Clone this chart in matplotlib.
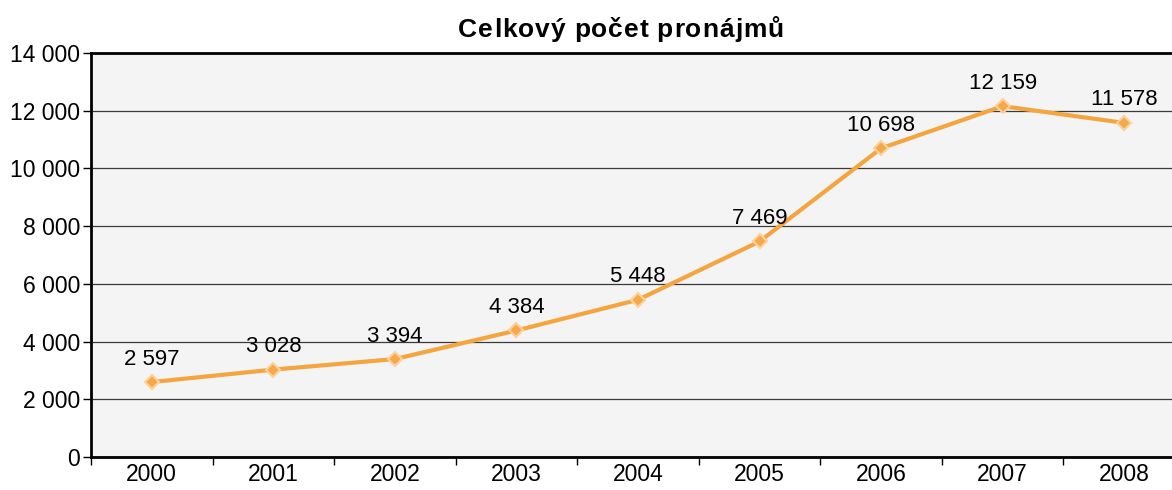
import matplotlib.pyplot as plt

plt.rcParams['font.family'] = ['Liberation Sans', 'DejaVu Sans']

years = ['2000', '2001', '2002', '2003', '2004', '2005', '2006', '2007', '2008']
rentals = [2597, 3028, 3394, 4384, 5448, 7469, 10698, 12159, 11578]
yticks = [0, 2000, 4000, 6000, 8000, 10000, 12000, 14000]
title = 'Celkový počet pronájmů'


def fmt(v):
    return f'{v:,}'.replace(',', ' ')


fig = plt.figure(figsize=(11.72, 4.90), dpi=100)
ax = fig.add_axes([91 / 1172, 33 / 490, 1094 / 1172, 404 / 490])
ax.set_facecolor('#f4f4f4')

x = list(range(len(years)))
ax.plot(x, rentals, color='#f5a540', lw=3, zorder=3,
        marker='D', ms=7.5, mfc='#f7a84a', mec='#fcd29a', mew=1.5)
for xi, v in zip(x, rentals):
    ax.annotate(fmt(v), (xi, v), xytext=(0, 16.5), textcoords='offset points',
                ha='center', va='center', fontsize=16)

ax.set_xlim(-0.5, 8.5)
ax.set_ylim(0, 14000)
ax.set_yticks(yticks)
ax.set_yticklabels([fmt(v) for v in yticks], fontsize=16.5)
ax.set_xticks(x)
ax.set_xticklabels(years, fontsize=16.5)
ax.set_xticks([i + 0.5 for i in range(-1, 9)], minor=True)
ax.tick_params(axis='x', which='major', length=0, pad=4)
ax.tick_params(axis='x', which='minor', length=6, width=1, direction='out')
ax.tick_params(axis='y', length=6, width=1, pad=2)
ax.yaxis.grid(True, color='#3a3a3a', lw=0.9)
ax.set_axisbelow(True)

for s in ['left', 'bottom', 'top']:
    ax.spines[s].set_linewidth(2)
ax.spines['right'].set_visible(False)

# title with slight letter spacing, drawn char by char
renderer = fig.canvas.get_renderer()
spacing = 1.0  # px
tsize = 19
widths = []
for ch in title:
    t = fig.text(0, 0, ch, fontsize=tsize, fontweight='bold')
    w = t.get_window_extent(renderer).width if ch != ' ' else 6.5
    widths.append(w)
    t.remove()
total = sum(widths) + spacing * (len(title) - 1)
xpos = 621 - total / 2
for ch, w in zip(title, widths):
    fig.text(xpos / 1172, 1 - 30 / 490, ch, fontsize=tsize, fontweight='bold',
             ha='left', va='center')
    xpos += w + spacing

fig.savefig('out.png', dpi=100)
